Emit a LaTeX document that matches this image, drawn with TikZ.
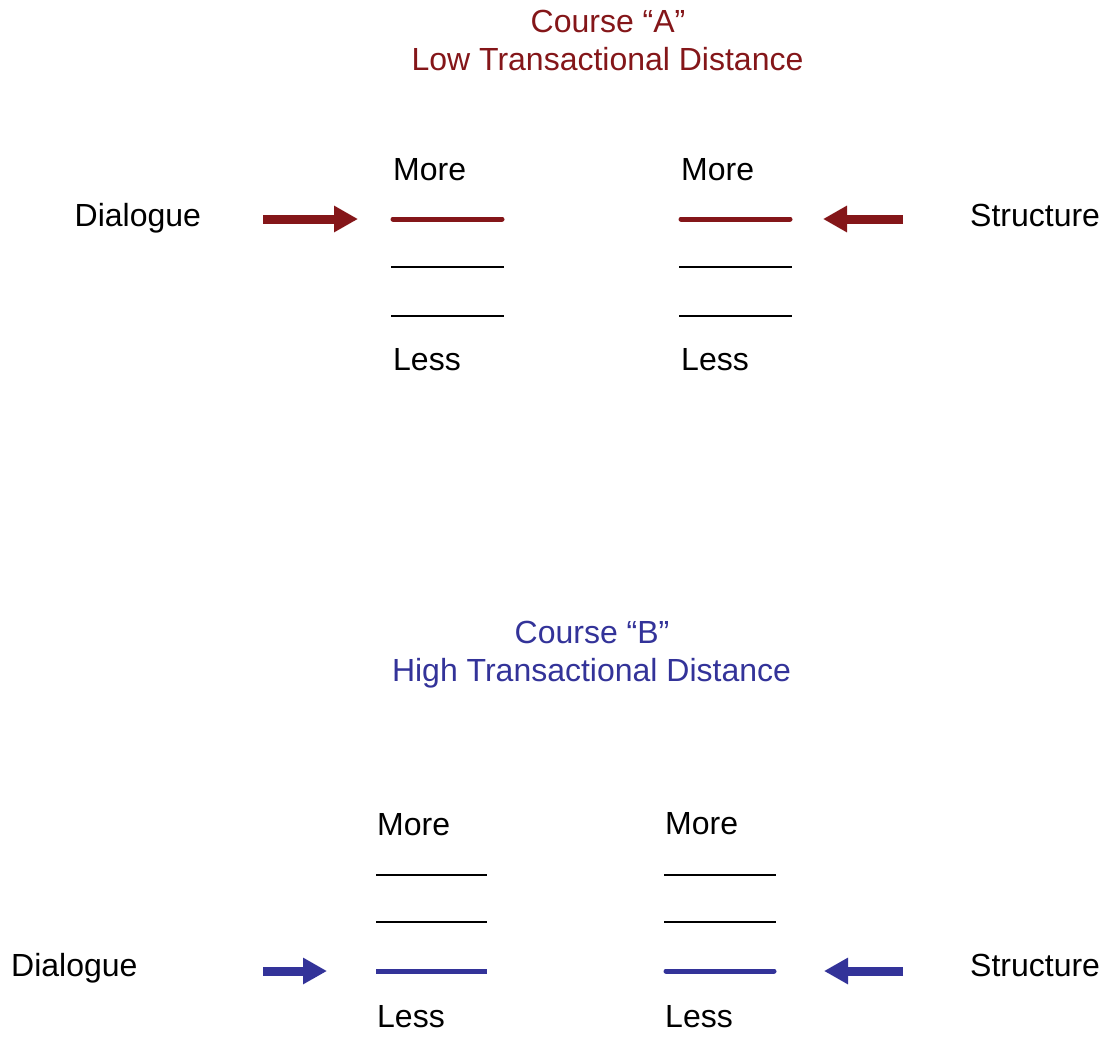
\documentclass[tikz,border=0pt]{standalone}
\usepackage{fontspec}
\setmainfont{Liberation Sans}
\usetikzlibrary{arrows.meta}
\definecolor{cred}{RGB}{132,22,25}
\definecolor{cblue}{RGB}{51,51,153}
\tikzset{
  lbl/.style={anchor=base west, inner sep=0pt, font=\fontsize{32}{37}\selectfont},
  ttl/.style={anchor=base, inner sep=0pt, font=\fontsize{32}{37}\selectfont},
  bigarrow/.style={line width=9pt, -{Triangle[length=24pt,width=25pt]}},
  scaleline/.style={line width=1.6pt, black},
  hotline/.style={line width=5pt, line cap=round}
}
\begin{document}
\begin{tikzpicture}[x=1pt,y=-1pt]
\useasboundingbox (0,0) rectangle (1110,1046);
% ---------- Course A ----------
\node[ttl, text=cred] (tA1) at (608,33) {Course “A”};
\node[ttl, text=cred] (tA2) at (607.5,71) {Low Transactional Distance};
\node[lbl] (dialA) at (74.5,226) {Dialogue};
\node[lbl] (strA) at (970,226) {Structure};
\node[lbl] (moreAL) at (393,180) {More};
\node[lbl] (lessAL) at (393,370) {Less};
\node[lbl] (moreAR) at (681,180) {More};
\node[lbl] (lessAR) at (681,370) {Less};
\coordinate (aL1a) at (393,219); \coordinate (aL1b) at (502,219);
\coordinate (aL2a) at (391,267); \coordinate (aL2b) at (504,267);
\coordinate (aL3a) at (391,316); \coordinate (aL3b) at (504,316);
\coordinate (aR1a) at (681,219); \coordinate (aR1b) at (790,219);
\coordinate (aR2a) at (679,267); \coordinate (aR2b) at (792,267);
\coordinate (aR3a) at (679,316); \coordinate (aR3b) at (792,316);
\draw[hotline, cred] (aL1a) -- (aL1b);
\draw[scaleline] (aL2a) -- (aL2b);
\draw[scaleline] (aL3a) -- (aL3b);
\draw[hotline, cred] (aR1a) -- (aR1b);
\draw[scaleline] (aR2a) -- (aR2b);
\draw[scaleline] (aR3a) -- (aR3b);
\coordinate (arAs) at (263,219); \coordinate (arAe) at (358,219);
\coordinate (arBs) at (903,219); \coordinate (arBe) at (823,219);
\draw[bigarrow, cred] (arAs) -- (arAe);
\draw[bigarrow, cred] (arBs) -- (arBe);
% ---------- Course B ----------
\node[ttl, text=cblue] (tB1) at (592,643) {Course “B”};
\node[ttl, text=cblue] (tB2) at (591.5,681) {High Transactional Distance};
\node[lbl] (dialB) at (11,976) {Dialogue};
\node[lbl] (strB) at (970,976) {Structure};
\node[lbl] (moreBL) at (377,835) {More};
\node[lbl] (lessBL) at (377,1027) {Less};
\node[lbl] (moreBR) at (665,834) {More};
\node[lbl] (lessBR) at (665,1027) {Less};
\coordinate (bL1a) at (376,875); \coordinate (bL1b) at (487,875);
\coordinate (bL2a) at (376,922); \coordinate (bL2b) at (487,922);
\coordinate (bL3a) at (376,971); \coordinate (bL3b) at (487,971);
\coordinate (bR1a) at (664,875); \coordinate (bR1b) at (776,875);
\coordinate (bR2a) at (664,922); \coordinate (bR2b) at (776,922);
\coordinate (bR3a) at (666,971); \coordinate (bR3b) at (774,971);
\draw[scaleline] (bL1a) -- (bL1b);
\draw[scaleline] (bL2a) -- (bL2b);
\draw[line width=5pt, cblue] (bL3a) -- (bL3b);
\draw[scaleline] (bR1a) -- (bR1b);
\draw[scaleline] (bR2a) -- (bR2b);
\draw[hotline, cblue] (bR3a) -- (bR3b);
\coordinate (brAs) at (263,971); \coordinate (brAe) at (327,971);
\coordinate (brBs) at (903,971); \coordinate (brBe) at (824,971);
\draw[bigarrow, cblue] (brAs) -- (brAe);
\draw[bigarrow, cblue] (brBs) -- (brBe);
\end{tikzpicture}
\end{document}
